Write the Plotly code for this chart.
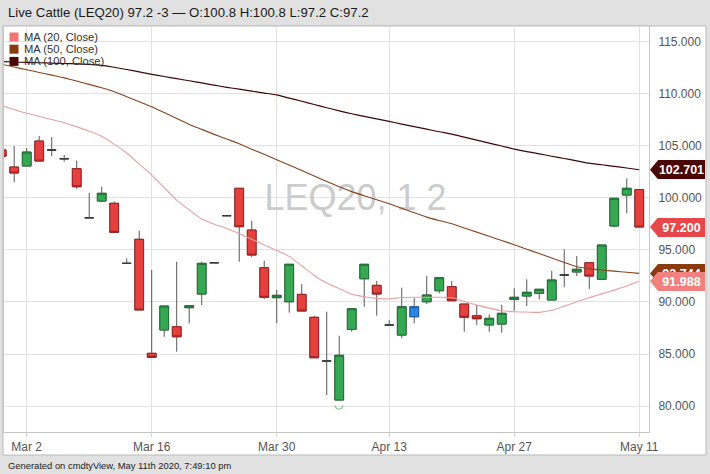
import plotly.graph_objects as go

# ---------------- data ----------------
dates = ["2020-02-27", "2020-02-28",
         "2020-03-02", "2020-03-03", "2020-03-04", "2020-03-05", "2020-03-06",
         "2020-03-09", "2020-03-10", "2020-03-11", "2020-03-12", "2020-03-13",
         "2020-03-16", "2020-03-17", "2020-03-18", "2020-03-19", "2020-03-20",
         "2020-03-23", "2020-03-24", "2020-03-25", "2020-03-26", "2020-03-27",
         "2020-03-30", "2020-03-31", "2020-04-01", "2020-04-02", "2020-04-03",
         "2020-04-06", "2020-04-07", "2020-04-08", "2020-04-09",
         "2020-04-13", "2020-04-14", "2020-04-15", "2020-04-16", "2020-04-17",
         "2020-04-20", "2020-04-21", "2020-04-22", "2020-04-23", "2020-04-24",
         "2020-04-27", "2020-04-28", "2020-04-29", "2020-04-30", "2020-05-01",
         "2020-05-04", "2020-05-05", "2020-05-06", "2020-05-07", "2020-05-08",
         "2020-05-11"]

opens = [104.60, 102.96, 103.06, 105.46, 104.60, 103.76, 102.80,
         98.09, 99.70, 99.48, 93.71, 96.02,
         85.07, 87.31, 87.62, 89.45, 90.76,
         93.77, 98.29, 100.92, 96.91, 93.29,
         90.41, 90.02, 90.73, 88.53, 84.33,
         80.58, 87.37, 92.23, 91.60,
         87.79, 86.82, 88.58, 90.02, 91.08,
         91.47, 89.80, 88.68, 87.79, 87.88,
         90.25, 90.57, 90.83, 90.19, 92.59,
         92.88, 93.77, 92.18, 97.30, 100.27,
         100.80]
highs = [104.80, 104.98, 104.79, 105.94, 105.84, 104.12, 103.57,
         100.49, 101.07, 99.67, 94.19, 96.84,
         93.07, 89.61, 93.87, 89.64, 93.87,
         93.77, 98.29, 100.92, 97.80, 93.96,
         91.15, 93.62, 91.72, 88.68, 89.06,
         86.76, 89.35, 93.62, 92.01,
         88.27, 91.37, 90.38, 92.49, 92.33,
         92.01, 89.80, 89.71, 88.81, 89.71,
         91.31, 92.18, 91.22, 93.00, 95.06,
         94.41, 93.77, 95.47, 99.96, 101.88,
         100.80]
lows = [103.90, 101.52, 103.06, 103.54, 104.02, 103.47, 100.85,
        98.09, 99.60, 96.69, 93.71, 89.23,
        84.68, 86.66, 85.22, 87.95, 89.71,
        93.77, 98.29, 93.87, 94.29, 90.28,
        87.95, 88.97, 89.13, 84.64, 81.06,
        80.58, 87.14, 89.54, 88.68,
        87.79, 86.51, 87.95, 89.80, 90.83,
        90.12, 87.14, 87.79, 87.14, 87.05,
        89.16, 89.61, 90.25, 90.19, 91.41,
        92.49, 91.24, 92.18, 97.17, 98.52,
        97.20]
closes = [104.00, 102.39, 104.40, 103.54, 104.60, 103.76, 101.07,
          98.09, 100.44, 96.69, 93.71, 89.23,
          84.68, 89.61, 86.66, 89.64, 93.71,
          93.77, 98.29, 97.23, 94.51, 90.45,
          90.64, 93.62, 89.13, 84.64, 84.33,
          84.88, 89.35, 93.62, 90.76,
          87.79, 89.54, 89.54, 90.67, 92.33,
          90.12, 88.53, 88.39, 88.43, 88.91,
          90.45, 90.93, 91.22, 92.11, 92.59,
          93.14, 92.49, 95.47, 99.96, 100.92,
          97.20]

ma20 = [108.85, 108.49, 108.12, 107.82, 107.52, 107.22, 106.82, 106.40, 105.93, 105.16,
        104.31, 103.25, 102.19, 100.99, 99.79, 98.85, 97.97, 97.47, 97.06, 96.56,
        96.02, 95.48, 94.94, 94.38, 93.48, 92.55, 91.82, 91.28, 90.74, 90.51,
        90.35, 90.29, 90.43, 90.45, 90.45, 90.45, 90.40, 90.05, 89.70, 89.41,
        89.15, 89.06, 89.03, 89.00, 89.20, 89.60, 90.02, 90.42, 90.78, 91.14,
        91.54, 91.988]
ma50 = [112.83, 112.57, 112.31, 112.05, 111.79, 111.53, 111.22, 110.90, 110.57, 110.20,
        109.72, 109.24, 108.76, 108.19, 107.62, 107.06, 106.58, 106.10, 105.66, 105.19,
        104.68, 104.18, 103.66, 103.15, 102.62, 102.10, 101.57, 101.06, 100.60, 100.21,
        99.82, 99.43, 99.00, 98.57, 98.15, 97.82, 97.51, 97.11, 96.71, 96.31,
        95.90, 95.50, 95.07, 94.65, 94.22, 93.80, 93.39, 93.20, 93.07, 92.96,
        92.86, 92.744]
ma100 = [113.09, 113.05, 113.01, 112.98, 112.94, 112.91, 112.87, 112.82, 112.72, 112.55,
         112.33, 112.10, 111.87, 111.66, 111.45, 111.25, 111.04, 110.83, 110.62, 110.44,
         110.26, 110.07, 109.89, 109.58, 109.28, 108.97, 108.66, 108.36, 108.08, 107.83,
         107.58, 107.34, 107.09, 106.84, 106.60, 106.35, 106.12, 105.83, 105.55, 105.26,
         104.98, 104.68, 104.45, 104.23, 104.00, 103.78, 103.56, 103.33, 103.18, 103.02,
         102.87, 102.701]

tick_dates = ["2020-03-02", "2020-03-16", "2020-03-30", "2020-04-13", "2020-04-27", "2020-05-11"]
tick_labels = ["Mar 2", "Mar 16", "Mar 30", "Apr 13", "Apr 27", "May 11"]
y_ticks = [80, 85, 90, 95, 100, 105, 110, 115]

title_text = "Live Cattle (LEQ20) 97.2 -3 \u2014 O:100.8 H:100.8 L:97.2 C:97.2"
footer_text = "Generated on cmdtyView, May 11th 2020, 7:49:10 pm"
watermark_text = "LEQ20, 1 2"
legend_names = ["MA (20, Close)", "MA (50, Close)", "MA (100, Close)"]

# ---------------- layout geometry ----------------
W, H = 710, 474
ML, MR, MT, MB = 4, 61, 26, 42
PW, PH = W - ML - MR, H - MT - MB
X_RANGE = [0.184, 51.78]
Y_RANGE = [77.51, 116.51]
PPU = PH / (Y_RANGE[1] - Y_RANGE[0])


def px(xp):
    return (xp - ML) / PW


def py(yp):
    return (H - MB - yp) / PH


FONT = "Liberation Sans, Arial, sans-serif"
TICKFONT = "Liberation Sans, Arial, sans-serif"

C_UP, C_UP_LINE = "#36a853", "#1f7136"
C_DN, C_DN_LINE = "#e5403e", "#9c2222"
C_BL, C_BL_LINE = "#2f86e0", "#1b5ea8"
C_WICK = "#575757"
C_DOJI = "#3c3c3c"
C_MA20, C_MA50, C_MA100 = "#e6a0a0", "#86451f", "#3e0707"
SW_MA20, SW_MA50, SW_MA100 = "#f27474", "#8b3a10", "#4a0505"

xi = list(range(len(dates)))

fig = go.Figure()

# watermark
fig.add_trace(go.Scatter(
    x=[X_RANGE[0] + 0.545 * (X_RANGE[1] - X_RANGE[0])],
    y=[Y_RANGE[0] + 0.57 * (Y_RANGE[1] - Y_RANGE[0])],
    mode="text", text=[watermark_text],
    textfont=dict(size=36, color="#cbcbcb", family=FONT),
    hoverinfo="skip", showlegend=False))

# moving averages
for vals, col, w in [(ma100, C_MA100, 1.2), (ma50, C_MA50, 1.1), (ma20, C_MA20, 1.1)]:
    fig.add_trace(go.Scatter(x=xi, y=vals, mode="lines",
                             line=dict(color=col, width=w, shape="spline", smoothing=0.5),
                             hoverinfo="skip", showlegend=False))

# wicks (full candles in gray)
fig.add_trace(go.Candlestick(
    x=xi, open=opens, high=highs, low=lows, close=closes,
    increasing=dict(line=dict(color=C_WICK, width=1), fillcolor=C_WICK),
    decreasing=dict(line=dict(color=C_WICK, width=1), fillcolor=C_WICK),
    whiskerwidth=0, hoverinfo="skip", showlegend=False))

# classify candles
doji, blue, normal = [], [], []
for i in xi:
    if opens[i] == closes[i]:
        doji.append(i)
    elif i > 0 and closes[i] == closes[i - 1]:
        blue.append(i)
    else:
        normal.append(i)


def add_bodies(sel, inc_fill, inc_line, dec_fill, dec_line):
    fig.add_trace(go.Candlestick(
        x=[xi[i] for i in sel],
        open=[opens[i] for i in sel],
        close=[closes[i] for i in sel],
        high=[max(opens[i], closes[i]) for i in sel],
        low=[min(opens[i], closes[i]) for i in sel],
        increasing=dict(line=dict(color=inc_line, width=1), fillcolor=inc_fill),
        decreasing=dict(line=dict(color=dec_line, width=1), fillcolor=dec_fill),
        whiskerwidth=0, hoverinfo="skip", showlegend=False))


add_bodies(normal, C_UP, C_UP_LINE, C_DN, C_DN_LINE)
add_bodies(blue, C_BL, C_BL_LINE, C_BL, C_BL_LINE)
add_bodies(doji, C_DOJI, C_DOJI, C_DOJI, C_DOJI)

# low marker under the lowest candle
lo_i = min(xi, key=lambda i: lows[i])
fig.add_trace(go.Scatter(x=[xi[lo_i]], y=[lows[lo_i]], mode="text", text=["\u25e1"],
                         textposition="bottom center",
                         textfont=dict(size=11, color=C_UP), hoverinfo="skip", showlegend=False))

shapes = []
annotations = []

# white panel
shapes.append(dict(type="rect", xref="paper", yref="paper", x0=px(3), x1=px(706),
                   y0=py(455), y1=py(26), fillcolor="#ffffff",
                   line=dict(color="#b9b9b9", width=1), layer="below"))

# right-side value flags
flags = [(ma100[-1], SW_MA100), (closes[-1], "#e8474a"), (ma50[-1], SW_MA50), (ma20[-1], "#f2807e")]
hh = 9.5 / PPU
for val, col in flags:
    shapes.append(dict(type="path", xref="paper", yref="y",
                       path="M {a},{y} L {b},{t} L {b},{bt} Z".format(
                           a=px(650), b=px(658), y=val, t=val + hh, bt=val - hh),
                       fillcolor=col, line=dict(width=0), layer="above"))
    annotations.append(dict(xref="paper", yref="y", x=px(681), y=val,
                            text="<b>{:.3f}</b>".format(val), showarrow=False,
                            xanchor="center", yanchor="middle",
                            font=dict(size=12.5, color="#ffffff", family=FONT),
                            bgcolor=col, width=45, height=17, borderpad=1, borderwidth=0))

# legend
for k, (name, col) in enumerate(zip(legend_names, [SW_MA20, SW_MA50, SW_MA100])):
    yc = 37 + k * 12.2
    shapes.append(dict(type="rect", xref="paper", yref="paper",
                       x0=px(9.5), x1=px(18.5), y0=py(yc + 4.5), y1=py(yc - 4.5),
                       fillcolor=col, line=dict(width=0), layer="above"))
    annotations.append(dict(xref="paper", yref="paper", x=px(21.5), y=py(yc),
                            text=name, showarrow=False, xanchor="left", yanchor="middle",
                            font=dict(size=11.2, color="#333333", family=FONT)))

# title & footer
annotations.append(dict(xref="paper", yref="paper", x=px(6), y=py(13), text=title_text,
                        showarrow=False, xanchor="left", yanchor="middle",
                        font=dict(size=13.2, color="#1a1a1a", family=FONT)))
annotations.append(dict(xref="paper", yref="paper", x=px(6), y=py(465), text=footer_text,
                        showarrow=False, xanchor="left", yanchor="middle",
                        font=dict(size=9.4, color="#222222", family=FONT)))

fig.update_layout(
    width=W, height=H, margin=dict(l=ML, r=MR, t=MT, b=MB, autoexpand=False),
    paper_bgcolor="#e1e1e1", plot_bgcolor="#ffffff",
    showlegend=False, boxgap=0.3, boxgroupgap=0,
    shapes=shapes, annotations=annotations,
    xaxis=dict(type="linear", range=X_RANGE, automargin=False,
               tickvals=[dates.index(d) for d in tick_dates], ticktext=tick_labels,
               showgrid=True, gridcolor="#e2e2e2", gridwidth=1,
               ticks="outside", ticklen=4, tickcolor="#d6d6d6",
               showline=True, linecolor="#c6c6c6", linewidth=1, mirror=True,
               zeroline=False, rangeslider=dict(visible=False),
               tickfont=dict(size=12, color="#555555", family=TICKFONT)),
    yaxis=dict(side="right", range=Y_RANGE, tickvals=y_ticks, tickformat=".3f",
               automargin=False,
               showgrid=True, gridcolor="#e2e2e2", gridwidth=1,
               ticks="outside", ticklen=6, tickcolor="rgba(0,0,0,0)",
               showline=True, linecolor="#c6c6c6", linewidth=1, mirror=True,
               zeroline=False,
               tickfont=dict(size=12, color="#555555", family=TICKFONT)),
)

fig.write_html("out.html", config={"displayModeBar": False},
               post_script="document.body.style.margin='0';document.body.style.overflow='hidden';")
